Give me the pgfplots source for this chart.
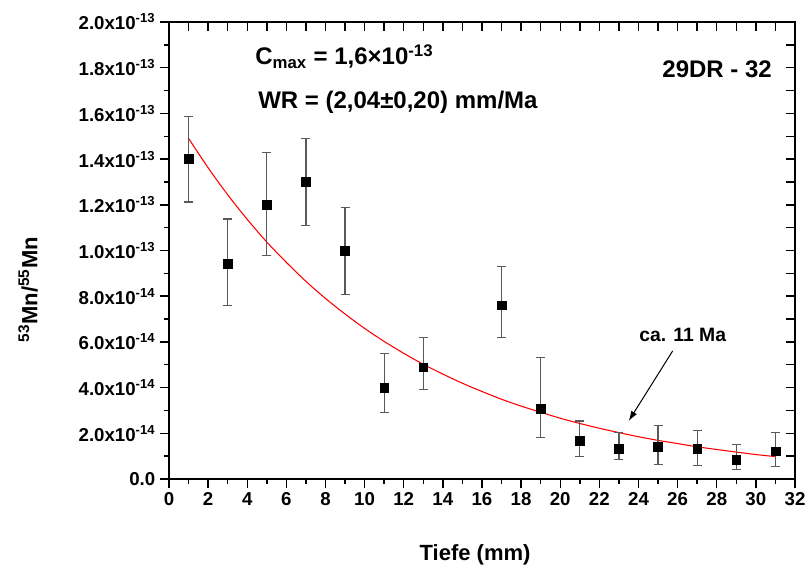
\documentclass[border=0pt]{standalone}
\usepackage{fontspec}
\setmainfont{Liberation Sans}
\usepackage{pgfplots}
\pgfplotsset{compat=1.18}
\usepackage{pgfplotstable}
\usetikzlibrary{arrows.meta}
\pgfplotstableread{
x y ep em
1 14.00 1.87 1.88
3 9.41 1.97 1.80
5 12.00 2.28 2.21
7 13.00 1.89 1.91
9 10.00 1.89 1.92
11 4.00 1.48 1.08
13 4.89 1.29 0.96
17 7.60 1.69 1.40
19 3.09 2.22 1.28
21 1.69 0.85 0.71
23 1.31 0.72 0.47
25 1.40 0.95 0.76
27 1.31 0.83 0.73
29 0.83 0.67 0.42
31 1.21 0.82 0.67
}\datatable
\pgfplotstableread{
x y
1 14.91
2 13.62
3 12.44
4 11.36
5 10.37
6 9.48
7 8.65
8 7.90
9 7.22
10 6.59
11 6.02
12 5.50
13 5.02
14 4.59
15 4.19
16 3.83
17 3.49
18 3.19
19 2.92
20 2.66
21 2.43
22 2.22
23 2.03
24 1.85
25 1.69
26 1.55
27 1.41
28 1.29
29 1.18
30 1.07
31 0.98
}\fittable
\begin{document}
\begin{tikzpicture}
\useasboundingbox (-126.75pt,-68.25pt) rectangle (480pt,359.25pt);
\pgfplotsset{common/.style={
  scale only axis, width=469.5pt, height=342.75pt,
  xmin=0, xmax=32, ymin=0, ymax=20,
  at={(0,0)}, anchor=south west,
  xtick={0,2,...,32}, ytick={0,2,...,20},
  minor x tick num=1, minor y tick num=1,
  axis line style={line width=1.4pt, black},
  tick style={line width=1.1pt, black},
}}
\begin{axis}[common,
  tick align=outside, xtick pos=left, ytick pos=left,
  major tick length=6.75pt, minor tick length=3.4pt,
  /pgf/number format/assume math mode=true,
  xticklabel style={font=\bfseries\fontsize{14}{16}\selectfont},
  yticklabel style={font=\bfseries\fontsize{14}{16}\selectfont},
  yticklabels={0.0,2.0x10\textsuperscript{-14},4.0x10\textsuperscript{-14},6.0x10\textsuperscript{-14},8.0x10\textsuperscript{-14},1.0x10\textsuperscript{-13},1.2x10\textsuperscript{-13},1.4x10\textsuperscript{-13},1.6x10\textsuperscript{-13},1.8x10\textsuperscript{-13},2.0x10\textsuperscript{-13}},
  xlabel={Tiefe (mm)},
  xlabel style={font=\bfseries\fontsize{16.5}{19}\selectfont, at={(axis description cs:0.489,-0.166)}, anchor=center},
  ylabel={\textsuperscript{53}Mn/\textsuperscript{55}Mn},
  ylabel style={font=\bfseries\fontsize{16.5}{19}\selectfont, at={(axis description cs:-0.225,0.414)}, anchor=center},
]
\addplot[red, line width=0.8pt, no marks, smooth] table[x=x, y=y] {\fittable};
\addplot[only marks, mark=square*, mark size=3.3pt, black,
  error bars/.cd, y dir=both, y explicit,
  error bar style={black!65, line width=0.9pt},
  error mark options={rotate=90, black!65, mark size=3.4pt, line width=0.9pt}]
  table[x=x, y=y, y error plus=ep, y error minus=em] {\datatable};
\node[anchor=base west, inner sep=0pt, font=\bfseries\fontsize{18}{20}\selectfont] at (axis cs:4.40,18.12) {C\textsubscript{max} = 1,6×10\textsuperscript{-13}};
\node[anchor=base west, inner sep=0pt, font=\bfseries\fontsize{18}{20}\selectfont] at (axis cs:4.55,16.22) {WR = (2,04±0,20) mm/Ma};
\node[anchor=base east, inner sep=0pt, font=\bfseries\fontsize{18}{20}\selectfont] at (axis cs:30.83,17.59) {29DR - 32};
\node[anchor=base west, inner sep=0pt, font=\bfseries\fontsize{14.5}{17}\selectfont] at (axis cs:24.03,6.0) {ca. 11 Ma};
\draw[-{Latex[length=7.5pt,width=5pt]}, line width=0.75pt] (axis cs:25.75,5.61) -- (axis cs:23.50,2.54);
\end{axis}
\begin{axis}[common,
  tick align=inside, xtick pos=right, ytick pos=right,
  major tick length=6.5pt, minor tick length=6.5pt,
  xticklabels={}, yticklabels={},
]
\end{axis}
\end{tikzpicture}
\end{document}
